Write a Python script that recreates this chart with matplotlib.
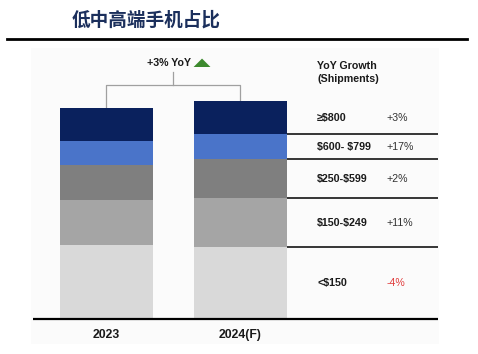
import numpy as np
import matplotlib
matplotlib.use('Agg')
from matplotlib import pyplot as plt
from matplotlib.lines import Line2D
from matplotlib.patches import Polygon

plt.rcParams['font.family'] = ['Liberation Sans', 'DejaVu Sans']

years = ['2023', '2024(F)']
bands = ['<$150', '$150-$249', '$250-$599', '$600- $799', '\u2265$800']
growth = ['-4%', '+11%', '+2%', '+17%', '+3%']
# share of 2023 shipments (2023 total = 100)
v2023 = [35.1, 21.3, 16.6, 11.4, 15.6]
v2024 = [34.1, 23.2, 18.5, 11.8, 15.6]
colors = ['#d9d9d9', '#a5a5a5', '#7f7f7f', '#4a74c9', '#0a215d']

fig = plt.figure(figsize=(4.78, 3.54), dpi=100)
W, H = 478, 354

# title + rule
fig.text(72 / W, 1 - 20 / H, '低中高端手机占比', family=['Noto Sans CJK SC', 'DejaVu Sans'],
         fontsize=13.4, fontweight='bold', color='#1b2f5c', va='center', ha='left')
fig.add_artist(Line2D([7 / W, 467 / W], [1 - 39 / H, 1 - 39 / H], color='black', lw=2))

ax = fig.add_axes([31 / W, 1 - 344 / H, 408 / W, 296 / H])
ax.set_facecolor('#fbfbfb')
ax.set_xlim(-0.563, 2.481)
ax.set_ylim(-11.85, 128.4)
for s in ax.spines.values():
    s.set_visible(False)
ax.set_xticks([])
ax.set_yticks([])

x = np.arange(len(years))
data = np.array([v2023, v2024])
bottom = np.zeros(2)
for i in range(len(bands)):
    ax.bar(x, data[:, i], width=0.7, bottom=bottom, color=colors[i], zorder=2)
    bottom += data[:, i]

# baseline
ax.hlines(0, -0.55, 2.474, color='black', lw=1.6, zorder=3)

fs = 7.7
# right side table
cum = np.concatenate([[0], np.cumsum(v2024)])
for i in range(len(bands)):
    if i < len(bands) - 1:
        ax.hlines(cum[i + 1], 1.35, 2.474, color='black', lw=1.1, zorder=3)
    ymid = (cum[i] + cum[i + 1]) / 2
    ax.text(1.571, ymid, bands[i], fontsize=fs, fontweight='bold', color='#1a1a1a',
            ha='left', va='center', parse_math=False)
    ax.text(2.086, ymid, growth[i], fontsize=fs, ha='left', va='center',
            color='#e03c3c' if growth[i].startswith('-') else '#333333')

ax.text(1.571, 119.9, 'YoY Growth', fontsize=fs, fontweight='bold', color='#1a1a1a',
        ha='left', va='center')
ax.text(1.571, 113.7, '(Shipments)', fontsize=fs, fontweight='bold', color='#1a1a1a',
        ha='left', va='center')

# year labels
for xi, yr in zip(x, years):
    ax.text(xi, -7.6, yr, fontsize=8.8, fontweight='bold', color='#1a1a1a',
            ha='center', va='center')

# YoY bracket
tot = data.sum(axis=1)
ybr = 110.9
ax.plot([0, 0, 1, 1], [tot[0], ybr, ybr, tot[1]], color='#a0a0a0', lw=0.9, zorder=1)
ax.plot([0.5, 0.5], [ybr, 117.1], color='#a0a0a0', lw=0.9, zorder=1)
ax.text(0.631, 121.3, '+3% YoY', fontsize=fs, fontweight='bold', color='#1a1a1a',
        ha='right', va='center')
ax.add_patch(Polygon([[0.650, 119.4], [0.776, 119.4], [0.713, 123.4]], closed=True,
                     color='#3d8a2e', lw=0))

fig.savefig('out.png', dpi=100)
